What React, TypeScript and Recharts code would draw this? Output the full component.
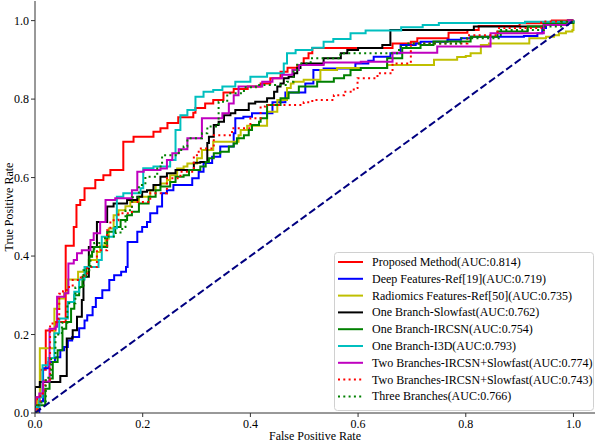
import { LineChart, Line, XAxis, YAxis } from "recharts";

const FONT = "'Liberation Serif', 'Times New Roman', serif";
const FRAME_COLOR = "#333";
const AXIS_TICKS = [0, 0.2, 0.4, 0.6, 0.8, 1.0];

// ROC curves, each row is [false positive rate, true positive rate]
const proposedRoc = [
  [0, 0], [0.004, 0.04], [0.01, 0.11], [0.02, 0.21], [0.038, 0.232], [0.057, 0.426],
  [0.072, 0.474], [0.077, 0.53], [0.084, 0.543], [0.092, 0.573], [0.112, 0.594],
  [0.127, 0.606], [0.14, 0.619], [0.164, 0.691], [0.183, 0.704], [0.22, 0.717],
  [0.233, 0.726], [0.246, 0.739], [0.266, 0.754], [0.294, 0.765], [0.298, 0.777],
  [0.316, 0.789], [0.331, 0.798], [0.35, 0.817], [0.369, 0.826], [0.395, 0.832],
  [0.419, 0.84], [0.437, 0.853], [0.456, 0.87], [0.469, 0.88], [0.487, 0.887],
  [0.499, 0.904], [0.508, 0.917], [0.515, 0.93], [0.664, 0.942], [0.698, 0.946],
  [0.71, 0.955], [0.768, 0.969], [0.803, 0.976], [0.824, 0.986], [0.9, 0.993],
  [0.96, 1], [1, 1],
];

const deepFeaturesRoc = [
  [0, 0], [0.008, 0.03], [0.015, 0.114], [0.025, 0.13], [0.037, 0.142], [0.047, 0.16],
  [0.054, 0.168], [0.061, 0.185], [0.069, 0.194], [0.082, 0.216], [0.092, 0.236],
  [0.097, 0.249], [0.107, 0.27], [0.113, 0.293], [0.125, 0.313], [0.138, 0.339],
  [0.147, 0.351], [0.16, 0.36], [0.169, 0.372], [0.172, 0.436], [0.19, 0.462],
  [0.199, 0.474], [0.208, 0.487], [0.214, 0.509], [0.227, 0.526], [0.236, 0.56],
  [0.245, 0.568], [0.257, 0.581], [0.292, 0.598], [0.304, 0.615], [0.313, 0.637],
  [0.329, 0.653], [0.344, 0.679], [0.369, 0.713], [0.372, 0.751], [0.387, 0.755],
  [0.403, 0.764], [0.441, 0.792], [0.465, 0.817], [0.502, 0.84], [0.517, 0.874],
  [0.536, 0.878], [0.595, 0.891], [0.619, 0.898], [0.629, 0.908], [0.66, 0.917],
  [0.679, 0.938], [0.707, 0.942], [0.716, 0.946], [0.766, 0.951], [0.791, 0.955],
  [0.809, 0.959], [0.908, 0.961], [0.933, 0.968], [0.942, 0.981], [0.949, 0.989],
  [0.989, 0.997], [1, 1],
];

const radiomicsRoc = [
  [0, 0], [0.005, 0.03], [0.009, 0.165], [0.036, 0.266], [0.045, 0.292], [0.054, 0.305],
  [0.06, 0.34], [0.08, 0.36], [0.1, 0.39], [0.115, 0.41], [0.121, 0.427], [0.131, 0.445],
  [0.137, 0.47], [0.146, 0.504], [0.155, 0.517], [0.168, 0.527], [0.177, 0.538],
  [0.193, 0.551], [0.214, 0.568], [0.224, 0.581], [0.233, 0.585], [0.245, 0.594],
  [0.251, 0.606], [0.264, 0.623], [0.276, 0.628], [0.283, 0.636], [0.301, 0.649],
  [0.31, 0.67], [0.331, 0.691], [0.378, 0.708], [0.382, 0.721], [0.394, 0.732],
  [0.431, 0.768], [0.45, 0.798], [0.468, 0.828], [0.475, 0.84], [0.48, 0.844],
  [0.499, 0.849], [0.53, 0.874], [0.561, 0.879], [0.654, 0.887], [0.741, 0.9],
  [0.784, 0.907], [0.8, 0.91], [0.809, 0.917], [0.828, 0.938], [0.843, 0.942],
  [0.918, 0.955], [0.949, 0.959], [0.964, 0.963], [0.973, 0.968], [0.986, 0.972],
  [0.998, 0.976], [1, 1],
];

const slowfastRoc = [
  [0, 0], [0, 0.066], [0.009, 0.079], [0.047, 0.094], [0.059, 0.19], [0.07, 0.211],
  [0.078, 0.245], [0.087, 0.288], [0.09, 0.347], [0.1, 0.423], [0.115, 0.487],
  [0.134, 0.526], [0.146, 0.534], [0.171, 0.543], [0.19, 0.551], [0.199, 0.564],
  [0.208, 0.568], [0.22, 0.581], [0.233, 0.602], [0.245, 0.611], [0.261, 0.619],
  [0.295, 0.638], [0.307, 0.64], [0.32, 0.688], [0.323, 0.704], [0.332, 0.734],
  [0.341, 0.742], [0.351, 0.759], [0.363, 0.764], [0.372, 0.772], [0.397, 0.789],
  [0.409, 0.793], [0.431, 0.802], [0.444, 0.819], [0.45, 0.832], [0.456, 0.84],
  [0.462, 0.853], [0.471, 0.857], [0.481, 0.866], [0.487, 0.879], [0.493, 0.887],
  [0.496, 0.891], [0.536, 0.904], [0.568, 0.917], [0.58, 0.925], [0.6, 0.93],
  [0.645, 0.938], [0.66, 0.942], [0.66, 0.976], [0.815, 0.985], [0.945, 0.993],
  [0.99, 1], [1, 1],
];

const ircsnRoc = [
  [0, 0], [0, 0.02], [0.019, 0.062], [0.027, 0.088], [0.033, 0.13], [0.042, 0.16],
  [0.051, 0.215], [0.058, 0.232], [0.067, 0.266], [0.073, 0.3], [0.082, 0.321],
  [0.088, 0.347], [0.095, 0.372], [0.101, 0.398], [0.106, 0.411], [0.109, 0.423],
  [0.134, 0.462], [0.149, 0.474], [0.159, 0.492], [0.171, 0.504], [0.18, 0.513],
  [0.193, 0.534], [0.211, 0.551], [0.224, 0.568], [0.233, 0.577], [0.251, 0.589],
  [0.261, 0.602], [0.276, 0.606], [0.286, 0.619], [0.307, 0.628], [0.317, 0.64],
  [0.323, 0.649], [0.332, 0.662], [0.344, 0.666], [0.36, 0.679], [0.369, 0.687],
  [0.375, 0.7], [0.388, 0.708], [0.397, 0.721], [0.403, 0.734], [0.416, 0.742],
  [0.419, 0.751], [0.431, 0.785], [0.456, 0.802], [0.471, 0.817], [0.49, 0.832],
  [0.524, 0.844], [0.555, 0.853], [0.574, 0.861], [0.586, 0.874], [0.605, 0.879],
  [0.654, 0.904], [0.682, 0.93], [0.716, 0.938], [0.74, 0.947], [0.809, 0.959],
  [0.859, 0.972], [0.915, 0.985], [0.945, 0.994], [1, 1],
];

const i3dRoc = [
  [0, 0], [0, 0.015], [0.008, 0.04], [0.014, 0.122], [0.025, 0.14], [0.036, 0.203],
  [0.045, 0.241], [0.061, 0.283], [0.073, 0.309], [0.082, 0.34], [0.092, 0.372],
  [0.118, 0.39], [0.124, 0.449], [0.146, 0.471], [0.152, 0.551], [0.164, 0.56],
  [0.196, 0.573], [0.201, 0.624], [0.22, 0.628], [0.251, 0.645], [0.261, 0.721],
  [0.27, 0.759], [0.283, 0.772], [0.298, 0.806], [0.313, 0.819], [0.331, 0.823],
  [0.348, 0.832], [0.372, 0.844], [0.4, 0.857], [0.431, 0.866], [0.462, 0.891],
  [0.468, 0.917], [0.484, 0.925], [0.515, 0.931], [0.536, 0.946], [0.554, 0.953],
  [0.586, 0.968], [0.614, 0.975], [0.68, 0.983], [0.72, 0.989], [0.75, 0.994],
  [0.91, 0.997], [1, 1],
];

const twoBranchesARoc = [
  [0, 0], [0, 0.04], [0.008, 0.05], [0.015, 0.08], [0.027, 0.215], [0.038, 0.22],
  [0.041, 0.296], [0.055, 0.305], [0.062, 0.381], [0.072, 0.39], [0.078, 0.407],
  [0.087, 0.415], [0.103, 0.441], [0.109, 0.458], [0.121, 0.487], [0.131, 0.543],
  [0.149, 0.547], [0.18, 0.568], [0.19, 0.615], [0.202, 0.619], [0.233, 0.623],
  [0.245, 0.645], [0.255, 0.662], [0.267, 0.672], [0.283, 0.7], [0.31, 0.751],
  [0.348, 0.764], [0.36, 0.789], [0.369, 0.81], [0.378, 0.832], [0.422, 0.844],
  [0.441, 0.853], [0.459, 0.862], [0.478, 0.874], [0.49, 0.887], [0.536, 0.893],
  [0.605, 0.895], [0.664, 0.918], [0.747, 0.934], [0.846, 0.968], [0.945, 0.989],
  [0.989, 1], [1, 1],
];

const twoBranchesBRoc = [
  [0, 0], [0.005, 0.02], [0.01, 0.05], [0.019, 0.083], [0.028, 0.228], [0.04, 0.24],
  [0.045, 0.304], [0.052, 0.31], [0.059, 0.321], [0.07, 0.339], [0.085, 0.35],
  [0.097, 0.372], [0.115, 0.415], [0.134, 0.466], [0.14, 0.491], [0.155, 0.509],
  [0.18, 0.538], [0.214, 0.56], [0.245, 0.598], [0.27, 0.615], [0.295, 0.657],
  [0.304, 0.674], [0.332, 0.708], [0.366, 0.726], [0.4, 0.751], [0.419, 0.781],
  [0.428, 0.785], [0.499, 0.792], [0.515, 0.798], [0.555, 0.81], [0.574, 0.819],
  [0.592, 0.828], [0.599, 0.853], [0.636, 0.866], [0.664, 0.891], [0.698, 0.917],
  [0.698, 0.942], [0.803, 0.963], [0.859, 0.981], [0.94, 0.998], [1, 1],
];

const threeBranchesRoc = [
  [0, 0], [0, 0.02], [0.012, 0.03], [0.02, 0.09], [0.03, 0.14], [0.038, 0.2],
  [0.05, 0.23], [0.06, 0.28], [0.075, 0.32], [0.09, 0.364], [0.103, 0.41],
  [0.11, 0.433], [0.13, 0.45], [0.15, 0.46], [0.162, 0.474], [0.168, 0.517],
  [0.18, 0.55], [0.193, 0.581], [0.205, 0.602], [0.227, 0.628], [0.236, 0.657],
  [0.267, 0.67], [0.276, 0.679], [0.283, 0.7], [0.31, 0.713], [0.32, 0.73],
  [0.341, 0.793], [0.357, 0.815], [0.388, 0.83], [0.41, 0.836], [0.468, 0.844],
  [0.48, 0.874], [0.487, 0.891], [0.512, 0.904], [0.567, 0.917], [0.676, 0.934],
  [0.691, 0.942], [0.79, 0.955], [0.865, 0.976], [0.945, 0.985], [0.977, 0.997],
  [1, 1],
];

const chanceLine = [[0, 0], [1, 1]];

const toPoints = (rows: number[][]) => rows.map(([x, y]) => ({ x, y }));

const SERIES = [
  { name: "Proposed Method(AUC:0.814)", rows: proposedRoc, color: "#ff0000", dash: undefined },
  { name: "Deep Features-Ref[19](AUC:0.719)", rows: deepFeaturesRoc, color: "#0000ff", dash: undefined },
  { name: "Radiomics Features-Ref[50](AUC:0.735)", rows: radiomicsRoc, color: "#bfbf00", dash: undefined },
  { name: "One Branch-Slowfast(AUC:0.762)", rows: slowfastRoc, color: "#000000", dash: undefined },
  { name: "One Branch-IRCSN(AUC:0.754)", rows: ircsnRoc, color: "#008000", dash: undefined },
  { name: "One Branch-I3D(AUC:0.793)", rows: i3dRoc, color: "#00bfbf", dash: undefined },
  { name: "Two Branches-IRCSN+Slowfast(AUC:0.774)", rows: twoBranchesARoc, color: "#bf00bf", dash: undefined },
  { name: "Two Branches-IRCSN+Slowfast(AUC:0.743)", rows: twoBranchesBRoc, color: "#ff0000", dash: "2 3.3" },
  { name: "Three Branches(AUC:0.766)", rows: threeBranchesRoc, color: "#008000", dash: "2 3.3" },
];

const XTitle = (props: any) => {
  const vb = props.viewBox || { x: 35, y: 413, width: 560, height: 29 };
  return (
    <text x={vb.x + vb.width / 2} y={vb.y + 27} textAnchor="middle"
      fontFamily={FONT} fontSize={12} fill="#000">
      False Positive Rate
    </text>
  );
};

const YTitle = (props: any) => {
  const vb = props.viewBox || { x: 0, y: 1, width: 35, height: 412 };
  const cx = 9;
  const cy = vb.y + vb.height / 2;
  return (
    <text x={cx} y={cy} transform={`rotate(-90 ${cx} ${cy})`} textAnchor="middle"
      dominantBaseline="central" fontFamily={FONT} fontSize={12} fill="#000">
      True Positive Rate
    </text>
  );
};

// legend box in the lower right corner of the plot
const LEGEND_X = 334;
const LEGEND_Y = 252;
const ROW_H = 16.8;

const RocLegend = () => (
  <svg width={600} height={442}
    style={{ position: "absolute", left: 0, top: 0, pointerEvents: "none" }}>
    <rect x={LEGEND_X + 0.5} y={LEGEND_Y + 0.5} width={259} height={158} rx={3}
      fill="#fff" fillOpacity={0.8} stroke="#d0d0d0" />
    {SERIES.map((s, i) => {
      const cy = LEGEND_Y + 10 + i * ROW_H;
      return (
        <g key={s.name}>
          <line x1={338} x2={363} y1={cy} y2={cy} stroke={s.color} strokeWidth={2}
            strokeDasharray={s.dash} />
          <text x={372} y={cy} dominantBaseline="central" fontFamily={FONT}
            fontSize={12} fill="#000">
            {s.name}
          </text>
        </g>
      );
    })}
  </svg>
);

export default function App() {
  const tickStyle = { fill: "#000", fontSize: 12, fontFamily: FONT };
  return (
    <div style={{ position: "absolute", left: 0, top: 0, width: 600, height: 442, background: "#fff" }}>
      <LineChart width={600} height={442} margin={{ top: 1, right: 5, bottom: 0, left: 0 }}>
        <XAxis
          dataKey="x" type="number" domain={[0, 1.04]} ticks={AXIS_TICKS}
          tickFormatter={(v: number) => v.toFixed(1)} tick={tickStyle}
          tickSize={4} tickLine={{ stroke: FRAME_COLOR }} axisLine={{ stroke: FRAME_COLOR }}
          height={29} allowDataOverflow label={<XTitle />}
        />
        <YAxis
          dataKey="y" type="number" domain={[0, 1.05]} ticks={AXIS_TICKS}
          tickFormatter={(v: number) => v.toFixed(1)} tick={tickStyle}
          tickSize={4} tickLine={{ stroke: FRAME_COLOR }} axisLine={{ stroke: FRAME_COLOR }}
          width={35} allowDataOverflow label={<YTitle />}
        />
        <XAxis xAxisId="top" orientation="top" type="number" domain={[0, 1.04]}
          height={0} tick={false} tickLine={false} axisLine={{ stroke: FRAME_COLOR }} />
        <YAxis yAxisId="right" orientation="right" type="number" domain={[0, 1.05]}
          width={0} tick={false} tickLine={false} axisLine={{ stroke: FRAME_COLOR }} />
        {SERIES.map((s) => (
          <Line
            key={s.name}
            data={toPoints(s.rows)}
            dataKey="y"
            type="stepAfter"
            stroke={s.color}
            strokeWidth={2}
            strokeDasharray={s.dash}
            dot={false}
            activeDot={false}
            isAnimationActive={false}
          />
        ))}
        <Line
          data={toPoints(chanceLine)}
          dataKey="y"
          type="linear"
          stroke="#000080"
          strokeWidth={2}
          strokeDasharray="7.4 3.2"
          dot={false}
          activeDot={false}
          isAnimationActive={false}
        />
      </LineChart>
      <RocLegend />
    </div>
  );
}
